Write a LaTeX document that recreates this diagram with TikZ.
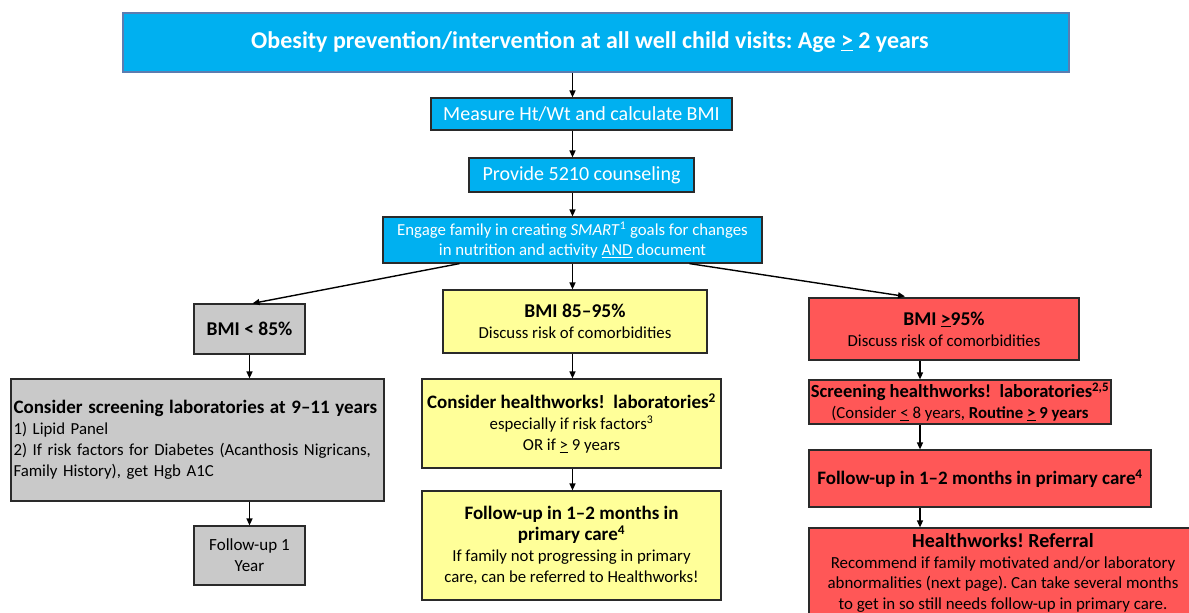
\documentclass[tikz,border=0pt]{standalone}
\usepackage{fontspec}
\setmainfont{Carlito}
\usepackage{tikz}
\usetikzlibrary{arrows.meta}
\usetikzlibrary{calc}

\definecolor{boxblue}{HTML}{00B0F0}
\definecolor{boxyellow}{HTML}{FFFF99}
\definecolor{boxgray}{HTML}{C9C9C9}
\definecolor{boxred}{HTML}{FF5757}
\definecolor{boxline}{HTML}{2A2A2A}
\definecolor{topline}{HTML}{5B7DB1}

\newcommand{\fsTitle}{\fontsize{24}{29}\selectfont}
\newcommand{\fsHead}{\fontsize{19.5}{24}\selectfont}
\newcommand{\fsSub}{\fontsize{19}{24}\selectfont}
\newcommand{\fsMid}{\fontsize{20}{24}\selectfont}
\newcommand{\fsBody}{\fontsize{16.8}{21}\selectfont}

\frenchspacing

\begin{document}
\begin{tikzpicture}[x=1pt, y=-1pt, line width=1.2pt,
        base_style/.style={rectangle,draw=boxline,align=center,inner sep=1pt,font=\fsBody},
        blue_style/.style={base_style,fill=boxblue,text=white},
        gray_style/.style={base_style,fill=boxgray,text=black},
        yellow_style/.style={base_style,fill=boxyellow,text=black},
        red_style/.style={base_style,fill=boxred,text=black},
        edge_style/.style={draw=black, line width=1.4pt,-{Triangle[length=7pt,width=6pt]}}]

        \useasboundingbox [fill=white] (0,0) rectangle (1189,613);
        \clip (0,0) rectangle (1189,613);

        % top of the chart
        \node [blue_style, draw=topline, minimum width=946, minimum height=59, font=\fsTitle\bfseries] (n1) at (596,42.5)
            {\hspace*{-12pt}Obesity prevention/intervention at all well child visits: Age \underline{>} 2 years};
        \node [blue_style, minimum width=301, minimum height=32, font=\fsMid] (n2) at (581.5,114) {Measure Ht/Wt and calculate BMI};
        \node [blue_style, minimum width=225, minimum height=34, font=\fsMid] (n3) at (581.5,175) {Provide 5210 counseling};
        \node [blue_style, minimum width=379, minimum height=46, font=\fontsize{16.8}{20.5}\selectfont] (n4) at (572.5,240)
            {Engage family in creating \textit{SMART}\textsuperscript{1} goals for changes\\in nutrition and activity \underline{AND} document};

        % BMI < 85%
        \node [gray_style, minimum width=111, minimum height=50, font=\fsHead\bfseries] (n5) at (249.5,329) {BMI < 85\%};
        \node [gray_style, minimum width=373, minimum height=122, align=left, text width=368] (n6) at (197.5,440)
            {{\fsSub\bfseries Consider screening laboratories at 9--11 years}\\
             1) Lipid Panel\\
             2) If risk factors for Diabetes (Acanthosis Nigricans,\\
             Family History), get Hgb A1C};
        \node [gray_style, minimum width=111, minimum height=59, font=\fontsize{17}{21}\selectfont] (n7) at (249.5,555.5) {Follow-up 1\\Year};

        % BMI 85-95%
        \node [yellow_style, minimum width=264, minimum height=63] (n8) at (575,321.5)
            {{\fsHead\bfseries BMI 85--95\%}\\Discuss risk of comorbidities};
        \node [yellow_style, minimum width=299, minimum height=89] (n9) at (571.5,423.5)
            {{\fsSub\bfseries Consider healthworks!\ \ laboratories\textsuperscript{2}}\\
             especially if risk factors\textsuperscript{3}\\
             OR if \underline{>} 9 years};
        \node [yellow_style, minimum width=299, minimum height=109] (n10) at (571.5,545.5)
            {{\fsSub\bfseries Follow-up in 1--2 months in}\\
             {\fsSub\bfseries primary care\textsuperscript{4}}\\
             If family not progressing in primary\\
             care, can be referred to Healthworks!};

        % BMI >= 95%
        \node [red_style, minimum width=270, minimum height=62] (n11) at (944,329)
            {{\fsHead\bfseries BMI \underline{>}95\%}\\Discuss risk of comorbidities};
        \node [red_style, minimum width=302, minimum height=44, inner sep=0pt] (n12) at (960,402)
            {{\fontsize{18.5}{21}\selectfont\bfseries Screening healthworks!\ \ laboratories\textsuperscript{2,5}}\\
             (Consider \underline{<} 8 years, \textbf{Routine \underline{>} 9 years}};
        \node [red_style, minimum width=342, minimum height=57, font=\fsSub\bfseries] (n13) at (980,478.5)
            {Follow-up in 1--2 months in primary care\textsuperscript{4}};
        \node [red_style, minimum width=388, minimum height=90, font=\fontsize{16.9}{20.5}\selectfont] (n14) at (1003,573)
            {{\fontsize{20}{21}\selectfont\bfseries Healthworks! Referral}\\
             Recommend if family motivated and/or laboratory\\
             abnormalities (next page). Can take several months\\
             to get in so still needs follow-up in primary care.};

        \coordinate (rc) at (920,0);

        \draw [edge_style] (n1.south -| n4) -- (n2.north -| n4);
        \draw [edge_style] (n2.south -| n4) -- (n3.north -| n4);
        \draw [edge_style] (n3.south -| n4) -- (n4.north);
        \draw [edge_style] ([xshift=-113]n4.south) -- ([xshift=3]n5.north);
        \draw [edge_style] (n4.south) -- (n8.north -| n4);
        \draw [edge_style] ([xshift=117]n4.south) -- ([xshift=-39,yshift=1]n11.north);
        \draw [edge_style] (n5.south) -- (n6.north -| n5);
        \draw [edge_style] (n6.south -| n7) -- (n7.north);
        \draw [edge_style] (n8.south -| n4) -- (n9.north -| n4);
        \draw [edge_style] (n9.south -| n4) -- (n10.north -| n4);
        \draw [edge_style] (n11.south -| rc) -- (n12.north -| rc);
        \draw [edge_style] (n12.south -| rc) -- (n13.north -| rc);
        \draw [edge_style] (n13.south -| rc) -- (n14.north -| rc);
\end{tikzpicture}
\end{document}
